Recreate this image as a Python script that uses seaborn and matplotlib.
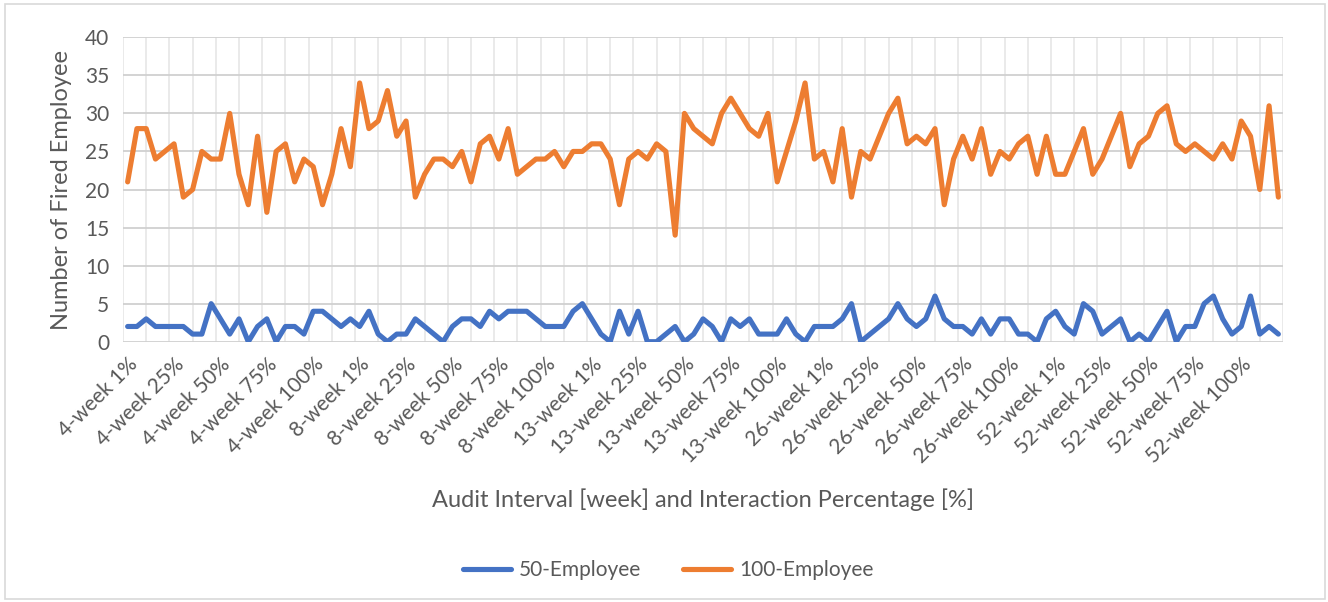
import matplotlib
matplotlib.use("Agg")
import matplotlib.pyplot as plt
from matplotlib.patches import Rectangle
from matplotlib.ticker import FixedLocator
import numpy as np
import pandas as pd
import seaborn as sns

# ---------------- data ----------------
intervals = ["4-week", "8-week", "13-week", "26-week", "52-week"]
percentages = ["1%", "25%", "50%", "75%", "100%"]
runs_per_setting = 5

employees_50 = [
    2, 2, 3, 2, 2, 2, 2, 1, 1, 5, 3, 1, 3, 0, 2, 3, 0, 2,
    2, 1, 4, 4, 3, 2, 3, 2, 4, 1, 0, 1, 1, 3, 2, 1, 0, 2,
    3, 3, 2, 4, 3, 4, 4, 4, 3, 2, 2, 2, 4, 5, 3, 1, 0, 4,
    1, 4, 0, 0, 1, 2, 0, 1, 3, 2, 0, 3, 2, 3, 1, 1, 1, 3,
    1, 0, 2, 2, 2, 3, 5, 0, 1, 2, 3, 5, 3, 2, 3, 6, 3, 2,
    2, 1, 3, 1, 3, 3, 1, 1, 0, 3, 4, 2, 1, 5, 4, 1, 2, 3,
    0, 1, 0, 2, 4, 0, 2, 2, 5, 6, 3, 1, 2, 6, 1, 2, 1,
]
employees_100 = [
    21, 28, 28, 24, 25, 26, 19, 20, 25, 24, 24, 30, 22, 18, 27, 17, 25, 26,
    21, 24, 23, 18, 22, 28, 23, 34, 28, 29, 33, 27, 29, 19, 22, 24, 24, 23,
    25, 21, 26, 27, 24, 28, 22, 23, 24, 24, 25, 23, 25, 25, 26, 26, 24, 18,
    24, 25, 24, 26, 25, 14, 30, 28, 27, 26, 30, 32, 30, 28, 27, 30, 21, 25,
    29, 34, 24, 25, 21, 28, 19, 25, 24, 27, 30, 32, 26, 27, 26, 28, 18, 24,
    27, 24, 28, 22, 25, 24, 26, 27, 22, 27, 22, 22, 25, 28, 22, 24, 27, 30,
    23, 26, 27, 30, 31, 26, 25, 26, 25, 24, 26, 24, 29, 27, 20, 31, 19,
]
series_names = ["50-Employee", "100-Employee"]
y_ticks = [0, 5, 10, 15, 20, 25, 30, 35, 40]

setting_labels = [f"{w} {p}" for w in intervals for p in percentages]
categories = [lab for lab in setting_labels for _ in range(runs_per_setting)]
n = len(categories)

df = pd.DataFrame({
    "idx": list(range(n)) * 2,
    "value": employees_50 + employees_100,
    "series": [series_names[0]] * n + [series_names[1]] * n,
})

# ---------------- style ----------------
BLUE = "#4472C4"
ORANGE = "#ED7D31"
TEXT = "#595959"

sns.set_theme(style="white")
plt.rcParams["font.family"] = ["Lato", "DejaVu Sans"]

W, H = 1328, 602
fig = plt.figure(figsize=(W / 100, H / 100), dpi=100)
fig.patch.set_facecolor("white")

left, right, top, bottom = 123, 1283, 37.3, 341.7
ax = fig.add_axes([left / W, 1 - bottom / H, (right - left) / W, (bottom - top) / H])

LW = 3.7
sns.lineplot(data=df, x="idx", y="value", hue="series",
             palette=[BLUE, ORANGE], linewidth=LW, ax=ax,
             legend=True, sort=False)
for ln in ax.lines:
    ln.set_solid_joinstyle("round")
    ln.set_solid_capstyle("round")
    ln.set_zorder(3)

ax.set_xlim(-0.5, n - 0.5)
ax.set_ylim(0, 40)

# y axis
ax.set_yticks(y_ticks)
ax.set_yticklabels([str(v) for v in y_ticks])
ax.grid(axis="y", which="major", color="#D0D0D0", linewidth=1.3, zorder=1)

# x axis: labels every 5 categories, gridlines every 2.5 categories
label_pos = list(range(0, n, runs_per_setting))
ax.set_xticks(label_pos)
ax.set_xticklabels([categories[i] for i in label_pos], rotation=45,
                   ha="right", rotation_mode="anchor")
ax.xaxis.set_minor_locator(FixedLocator(np.arange(-0.5, n, 2.5)))
ax.grid(axis="x", which="minor", color="#E4E4E4", linewidth=1.1, zorder=1)
ax.grid(axis="x", which="major", visible=False)

ax.tick_params(axis="both", which="both", length=0, colors=TEXT, labelsize=15)
ax.tick_params(axis="y", pad=10)
ax.tick_params(axis="x", pad=9)
for s in ax.spines.values():
    s.set_visible(False)
ax.set_axisbelow(True)

ax.set_ylabel("Number of Fired Employee", fontsize=17, color=TEXT, labelpad=9)
ax.set_xlabel("")
fig.text(0.5 * (left + right) / W, 1 - 500 / H,
         "Audit Interval [week] and Interaction Percentage [%]",
         ha="center", va="center", fontsize=17, color=TEXT)

# legend
handles, labels = ax.get_legend_handles_labels()
ax.get_legend().remove()
for h in handles:
    h.set_linewidth(LW)
fig.legend(handles, labels, loc="center", bbox_to_anchor=(0.503, 1 - 570 / H),
           ncol=2, frameon=False, fontsize=15, labelcolor=TEXT,
           handlelength=2.3, columnspacing=2.0, handletextpad=0.4)

# chart border
fig.add_artist(Rectangle((5 / W, 3 / H), (1325 - 5) / W, (598 - 3) / H,
                         transform=fig.transFigure, fill=False,
                         edgecolor="#D9D9D9", linewidth=1.2))

fig.savefig("out.png", dpi=100, facecolor="white")
